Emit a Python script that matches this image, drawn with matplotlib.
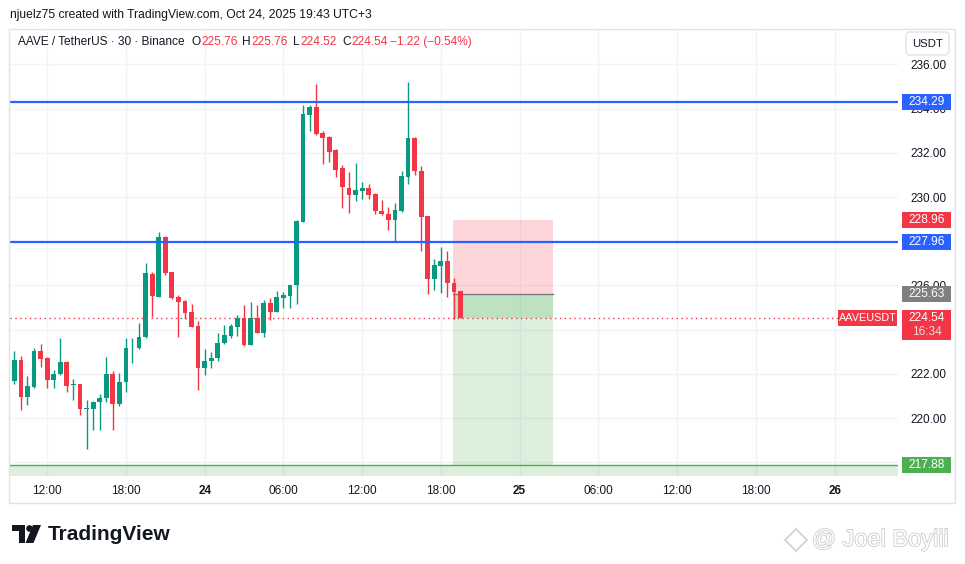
import matplotlib
matplotlib.use("Agg")
import matplotlib.pyplot as plt
import matplotlib.dates as mdates
import matplotlib.transforms as mtransforms
import matplotlib.patheffects as pe
from matplotlib.patches import Rectangle, FancyBboxPatch, Polygon, Circle
import pandas as pd

plt.rcParams['font.family'] = ['Liberation Sans', 'DejaVu Sans']

# AAVE/USDT 30m candles, Oct 23 09:30 -> Oct 24 19:30
opens = [221.67, 222.64, 220.95, 221.40, 223.05, 222.70, 221.70, 221.98, 222.55, 221.48,
         221.52, 220.40, 220.39, 220.71, 220.90, 222.01, 220.63, 221.61, 223.15, 223.15,
         223.65, 226.51, 225.49, 228.17, 226.60, 225.49, 225.30, 224.80, 224.17, 222.25,
         222.57, 222.70, 223.38, 223.72, 224.13, 224.53, 223.32, 224.52, 223.87, 225.21,
         224.82, 225.45, 225.52, 226.00, 228.89, 233.71, 234.06, 232.88, 232.71, 232.12,
         231.29, 230.42, 230.11, 230.29, 230.42, 230.15, 229.38, 229.24, 228.94, 229.38,
         230.92, 232.69, 231.19, 229.12, 226.30, 226.89, 227.11, 226.11, 225.76]
highs = [223.05, 222.81, 221.92, 223.15, 223.36, 222.75, 222.19, 223.60, 222.60, 221.79,
         221.56, 220.80, 220.78, 221.07, 222.78, 222.15, 222.06, 223.63, 223.63, 224.31,
         227.00, 226.60, 228.40, 228.22, 226.62, 225.55, 225.34, 225.15, 224.37, 223.14,
         223.00, 223.86, 224.22, 224.26, 224.67, 225.12, 225.25, 225.12, 225.34, 225.43,
         225.75, 225.70, 226.02, 228.95, 234.15, 234.18, 235.10, 232.97, 232.76, 232.18,
         231.47, 231.11, 231.56, 230.70, 230.60, 230.17, 229.88, 229.57, 229.74, 231.19,
         235.18, 232.73, 231.42, 229.14, 227.20, 227.75, 227.57, 226.34, 225.76]
lows = [221.52, 220.35, 220.57, 221.38, 222.33, 221.34, 221.34, 221.96, 221.20, 220.80,
        220.12, 218.59, 219.45, 219.45, 220.75, 219.45, 220.54, 221.16, 222.48, 223.11,
        223.63, 224.55, 225.47, 226.45, 225.40, 223.69, 224.47, 224.12, 221.28, 221.95,
        222.25, 222.60, 223.36, 223.63, 223.72, 223.27, 223.30, 223.85, 223.68, 224.43,
        224.80, 224.98, 225.00, 225.17, 228.87, 232.97, 232.79, 231.48, 231.60, 230.92,
        229.52, 229.29, 229.83, 229.92, 229.89, 229.24, 229.19, 228.53, 227.99, 229.30,
        230.60, 230.98, 227.58, 225.62, 225.80, 225.66, 225.47, 224.48, 224.52]
closes = [222.64, 220.95, 221.43, 223.05, 222.66, 221.70, 222.00, 222.55, 221.47, 221.50,
          220.39, 220.42, 220.75, 220.92, 222.01, 220.63, 221.61, 223.18, 223.17, 223.68,
          226.55, 225.54, 228.17, 226.57, 225.45, 225.27, 224.77, 224.14, 222.25, 222.60,
          222.73, 223.41, 223.77, 224.17, 224.53, 223.32, 224.52, 223.87, 225.21, 224.82,
          225.48, 225.57, 226.00, 228.92, 233.74, 234.06, 232.83, 232.67, 232.03, 231.20,
          230.44, 230.11, 230.33, 230.42, 230.10, 229.35, 229.21, 228.94, 229.42, 230.96,
          232.69, 231.16, 229.08, 226.30, 226.93, 227.11, 226.10, 225.72, 224.54]
times = pd.date_range("2025-10-23 09:30", periods=len(opens), freq="30min")

level_lines = [234.29, 227.96]
last_price = 224.54
entry, stop, target = 225.63, 228.96, 217.88
pos_start, pos_end = "2025-10-24 18:55", "2025-10-25 02:32"

tick_times = pd.date_range("2025-10-23 12:00", "2025-10-26 00:00", freq="6h")
tick_labels = ["12:00", "18:00", "24", "06:00", "12:00", "18:00", "25",
               "06:00", "12:00", "18:00", "26"]
# grid every 2.00; 218/224/228 labels sit fully under the price tags
grid_prices = [218, 220, 222, 224, 226, 228, 230, 232, 234, 236]
price_ticks = [220, 222, 226, 230, 232, 234, 236]

GREEN = "#089981"
RED = "#f23645"
BLUE = "#2962ff"
TXT = "#131722"

fig = plt.figure(figsize=(9.65, 5.64), dpi=100)
ax = fig.add_axes([10 / 965, 1 - 476 / 564, 888 / 965, 447 / 564])

x = mdates.date2num(times)
cols = [GREEN if c >= o else RED for o, c in zip(opens, closes)]
ax.vlines(x, lows, highs, colors=cols, linewidth=1, zorder=3)
ax.bar(x, [max(abs(c - o), 0.04) for o, c in zip(opens, closes)],
       bottom=[min(o, c) for o, c in zip(opens, closes)],
       width=0.0152, color=cols, linewidth=0, zorder=4)

for lv in level_lines:
    ax.axhline(lv, color=BLUE, lw=1.6, zorder=5)
ax.axhline(last_price, color=RED, lw=1, linestyle=(0, (1, 2.5)), zorder=5)

# short position tool
x0, x1 = mdates.date2num(pd.Timestamp(pos_start)), mdates.date2num(pd.Timestamp(pos_end))
ax.add_patch(Rectangle((x0, entry), x1 - x0, stop - entry, facecolor=RED, alpha=0.2, lw=0, zorder=1))
ax.add_patch(Rectangle((x0, target), x1 - x0, entry - target, facecolor="#4caf50", alpha=0.2, lw=0, zorder=1))
ax.add_patch(Rectangle((x0, last_price), x1 - x0, entry - last_price, facecolor="#4caf50", alpha=0.2, lw=0, zorder=1))
ax.plot([x0, x1], [entry, entry], color="#787b86", lw=1, zorder=2)

# target strip
ax.axhspan(210, target, color="#4caf50", alpha=0.2, lw=0, zorder=1)
ax.axhline(target, color="#4caf50", lw=1, zorder=2)

ax.set_xlim(mdates.date2num(pd.Timestamp("2025-10-23 09:10")),
            mdates.date2num(pd.Timestamp("2025-10-26 04:50")))
ax.set_ylim(217.38, 237.60)

for gp in grid_prices:
    ax.axhline(gp, color="#f0f3fa", lw=1, zorder=0)
ax.set_yticks(price_ticks)
ax.set_yticklabels([f"{p:.2f}" for p in price_ticks])
ax.yaxis.tick_right()
ax.tick_params(axis='y', length=0, pad=8.6, labelsize=8.5, labelcolor=TXT)
ax.set_xticks(mdates.date2num(tick_times))
ax.set_xticklabels(tick_labels)
ax.tick_params(axis='x', length=0, pad=6.5, labelsize=8.5, labelcolor=TXT)
for lab in ax.get_xticklabels():
    if ":" not in lab.get_text():
        lab.set_fontweight("bold")
ax.grid(axis='x', color="#f0f3fa", linewidth=1)
ax.set_axisbelow(True)
for s in ax.spines.values():
    s.set_visible(False)

# price tags on the right scale
bt = mtransforms.blended_transform_factory(ax.transAxes, ax.transData)
upp = 1 / 22.1  # price units per pixel


def price_tag(price, text, color):
    ax.add_patch(Rectangle((1.0045, price - 8 * upp), 0.0552, 16 * upp, transform=bt,
                           facecolor=color, lw=0, clip_on=False, zorder=10))
    ax.text(1.0321, price, text, transform=bt, color="white", fontsize=8.6,
            ha="center", va="center", clip_on=False, zorder=11)


price_tag(234.29, "234.29", BLUE)
price_tag(228.96, "228.96", RED)
price_tag(227.96, "227.96", BLUE)
price_tag(225.63, "225.63", "#7f7f7f")
price_tag(target, "217.88", "#4caf50")
ax.add_patch(Rectangle((1.0045, last_price - 22 * upp), 0.0552, 30 * upp, transform=bt,
                       facecolor=RED, lw=0, clip_on=False, zorder=10))
ax.text(1.0321, last_price, "224.54", transform=bt, color="white", fontsize=8.6,
        ha="center", va="center", clip_on=False, zorder=11)
ax.text(1.0321, last_price - 14 * upp, "16:34", transform=bt, color="#fcd7da", fontsize=8.6,
        ha="center", va="center", clip_on=False, zorder=11)
ax.add_patch(Rectangle((0.9324, last_price - 8 * upp), 0.0665, 16 * upp, transform=bt,
                       facecolor=RED, lw=0, clip_on=False, zorder=10))
ax.text(0.9657, last_price, "AAVEUSDT", transform=bt, color="white", fontsize=7.8,
        ha="center", va="center", clip_on=False, zorder=11)

# overlay in pixel coords for header, frame and logo
ov = fig.add_axes([0, 0, 1, 1], zorder=5)
ov.set_xlim(0, 965)
ov.set_ylim(564, 0)
ov.axis("off")

ov.add_patch(Rectangle((8.5, 28.5), 946, 474, fill=False, edgecolor="#e0e3eb", lw=1))
ov.add_patch(FancyBboxPatch((906, 32), 43, 23, boxstyle="round,pad=0,rounding_size=4",
                            facecolor="white", edgecolor="#e0e3eb", lw=1))
ov.text(927.5, 44, "USDT", fontsize=8.2, color=TXT, ha="center", va="center")

ov.text(10, 15, "njuelz75 created with TradingView.com, Oct 24, 2025 19:43 UTC+3",
        fontsize=8.7, color=TXT, va="center")
hy = 42
ov.text(18, hy, "AAVE / TetherUS · 30 · Binance", fontsize=8.6, color=TXT, va="center")
for lx, letter, val in [(192, "O", "225.76"), (242, "H", "225.76"),
                        (293, "L", "224.52"), (342, "C", "224.54")]:
    ov.text(lx, hy, letter, fontsize=8.6, color=TXT, va="center")
    ov.text(lx + 9.5 if letter in "OHC" else lx + 7.5, hy, val, fontsize=8.6, color=RED, va="center")
ov.text(390, hy, "\u22121.22 (\u22120.54%)", fontsize=8.6, color=RED, va="center")

# TradingView logo
ov.add_patch(Polygon([(12, 525), (25, 525), (25, 543), (18.5, 543), (18.5, 531), (12, 531)],
                     closed=True, color="#131722", lw=0))
ov.add_patch(Circle((29.5, 528.5), 3.3, color="#131722", lw=0))
ov.add_patch(Polygon([(33, 525), (41, 525), (33.5, 543), (25.5, 543)], closed=True,
                     color="#131722", lw=0))
ov.text(48, 534, "TradingView", fontsize=15, fontweight="bold", color="#131722", va="center")

# watermark
ov.add_patch(Polygon([(796, 529), (807, 540), (796, 551), (785, 540)], closed=True,
                     fill=False, edgecolor="#cccccc", lw=1.1))
ov.text(812, 540, "@ Joel Boyiii", fontsize=17, color="white", va="center",
        path_effects=[pe.withStroke(linewidth=1.1, foreground="#c8c8c8")])

fig.savefig("out.png", dpi=100)
